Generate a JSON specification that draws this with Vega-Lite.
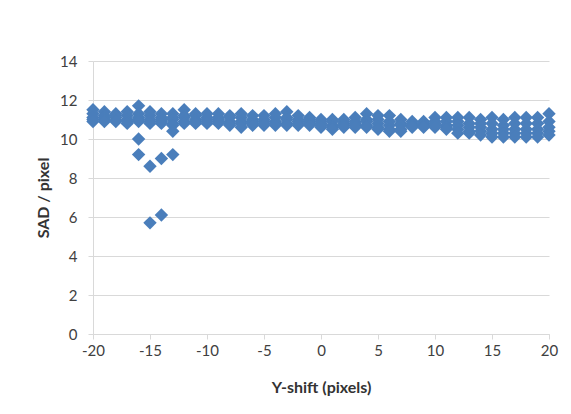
{
  "$schema": "https://vega.github.io/schema/vega-lite/v6.json",
  "autosize": {"type": "none"},
  "width": 456,
  "height": 273,
  "padding": {"left": 93, "top": 61, "right": 22, "bottom": 80},
  "background": "white",
  "config": {"view": {"stroke": null}, "font": "Lato"},
  "data": {"values": [
    {"x":-20,"y":11.5},{"x":-20,"y":11.3},{"x":-20,"y":11.1},{"x":-20,"y":11.0},{"x":-20,"y":10.9},
    {"x":-19,"y":11.4},{"x":-19,"y":11.2},{"x":-19,"y":11.1},{"x":-19,"y":11.0},{"x":-19,"y":10.9},
    {"x":-18,"y":11.3},{"x":-18,"y":11.2},{"x":-18,"y":11.1},{"x":-18,"y":10.95},{"x":-18,"y":10.9},
    {"x":-17,"y":11.4},{"x":-17,"y":11.2},{"x":-17,"y":11.0},{"x":-17,"y":10.9},{"x":-17,"y":10.8},
    {"x":-16,"y":11.7},{"x":-16,"y":11.3},{"x":-16,"y":11.1},{"x":-16,"y":11.0},{"x":-16,"y":10.9},{"x":-16,"y":10.0},{"x":-16,"y":9.2},
    {"x":-15,"y":11.4},{"x":-15,"y":11.2},{"x":-15,"y":11.0},{"x":-15,"y":10.9},{"x":-15,"y":10.8},{"x":-15,"y":8.6},{"x":-15,"y":5.7},
    {"x":-14,"y":11.3},{"x":-14,"y":11.1},{"x":-14,"y":11.0},{"x":-14,"y":10.9},{"x":-14,"y":10.8},{"x":-14,"y":9.0},{"x":-14,"y":6.1},
    {"x":-13,"y":11.3},{"x":-13,"y":11.1},{"x":-13,"y":11.0},{"x":-13,"y":10.8},{"x":-13,"y":10.7},{"x":-13,"y":10.4},{"x":-13,"y":9.2},
    {"x":-12,"y":11.5},{"x":-12,"y":11.2},{"x":-12,"y":11.1},{"x":-12,"y":10.9},{"x":-12,"y":10.8},
    {"x":-11,"y":11.3},{"x":-11,"y":11.2},{"x":-11,"y":11.0},{"x":-11,"y":10.9},{"x":-11,"y":10.8},
    {"x":-10,"y":11.3},{"x":-10,"y":11.1},{"x":-10,"y":11.0},{"x":-10,"y":10.9},{"x":-10,"y":10.8},
    {"x":-9,"y":11.3},{"x":-9,"y":11.1},{"x":-9,"y":11.0},{"x":-9,"y":10.9},{"x":-9,"y":10.8},
    {"x":-8,"y":11.2},{"x":-8,"y":11.1},{"x":-8,"y":10.9},{"x":-8,"y":10.8},{"x":-8,"y":10.7},
    {"x":-7,"y":11.3},{"x":-7,"y":11.1},{"x":-7,"y":10.9},{"x":-7,"y":10.8},{"x":-7,"y":10.6},
    {"x":-6,"y":11.2},{"x":-6,"y":11.0},{"x":-6,"y":10.9},{"x":-6,"y":10.8},{"x":-6,"y":10.7},
    {"x":-5,"y":11.2},{"x":-5,"y":11.0},{"x":-5,"y":10.9},{"x":-5,"y":10.8},{"x":-5,"y":10.7},
    {"x":-4,"y":11.3},{"x":-4,"y":11.1},{"x":-4,"y":10.9},{"x":-4,"y":10.8},{"x":-4,"y":10.7},
    {"x":-3,"y":11.4},{"x":-3,"y":11.1},{"x":-3,"y":11.0},{"x":-3,"y":10.8},{"x":-3,"y":10.7},
    {"x":-2,"y":11.2},{"x":-2,"y":11.0},{"x":-2,"y":10.9},{"x":-2,"y":10.8},{"x":-2,"y":10.7},
    {"x":-1,"y":11.1},{"x":-1,"y":11.0},{"x":-1,"y":10.9},{"x":-1,"y":10.8},{"x":-1,"y":10.7},
    {"x":0,"y":11.0},{"x":0,"y":10.9},{"x":0,"y":10.8},{"x":0,"y":10.7},{"x":0,"y":10.6},
    {"x":1,"y":11.0},{"x":1,"y":10.9},{"x":1,"y":10.7},{"x":1,"y":10.6},{"x":1,"y":10.5},
    {"x":2,"y":11.0},{"x":2,"y":10.9},{"x":2,"y":10.8},{"x":2,"y":10.7},{"x":2,"y":10.6},
    {"x":3,"y":11.1},{"x":3,"y":10.9},{"x":3,"y":10.8},{"x":3,"y":10.7},{"x":3,"y":10.6},
    {"x":4,"y":11.3},{"x":4,"y":11.0},{"x":4,"y":10.9},{"x":4,"y":10.7},{"x":4,"y":10.6},
    {"x":5,"y":11.2},{"x":5,"y":11.0},{"x":5,"y":10.8},{"x":5,"y":10.6},{"x":5,"y":10.5},
    {"x":6,"y":11.2},{"x":6,"y":10.9},{"x":6,"y":10.7},{"x":6,"y":10.5},{"x":6,"y":10.4},
    {"x":7,"y":11.0},{"x":7,"y":10.8},{"x":7,"y":10.7},{"x":7,"y":10.5},{"x":7,"y":10.4},
    {"x":8,"y":10.9},{"x":8,"y":10.8},{"x":8,"y":10.7},{"x":8,"y":10.65},{"x":8,"y":10.6},
    {"x":9,"y":10.9},{"x":9,"y":10.8},{"x":9,"y":10.7},{"x":9,"y":10.65},{"x":9,"y":10.6},
    {"x":10,"y":11.1},{"x":10,"y":10.9},{"x":10,"y":10.8},{"x":10,"y":10.7},{"x":10,"y":10.6},
    {"x":11,"y":11.1},{"x":11,"y":10.9},{"x":11,"y":10.7},{"x":11,"y":10.6},{"x":11,"y":10.5},
    {"x":12,"y":11.1},{"x":12,"y":10.9},{"x":12,"y":10.7},{"x":12,"y":10.5},{"x":12,"y":10.3},
    {"x":13,"y":11.1},{"x":13,"y":10.8},{"x":13,"y":10.6},{"x":13,"y":10.4},{"x":13,"y":10.3},
    {"x":14,"y":11.0},{"x":14,"y":10.8},{"x":14,"y":10.6},{"x":14,"y":10.4},{"x":14,"y":10.2},
    {"x":15,"y":11.1},{"x":15,"y":10.8},{"x":15,"y":10.5},{"x":15,"y":10.3},{"x":15,"y":10.1},
    {"x":16,"y":11.0},{"x":16,"y":10.7},{"x":16,"y":10.5},{"x":16,"y":10.3},{"x":16,"y":10.1},
    {"x":17,"y":11.1},{"x":17,"y":10.8},{"x":17,"y":10.5},{"x":17,"y":10.3},{"x":17,"y":10.1},
    {"x":18,"y":11.1},{"x":18,"y":10.8},{"x":18,"y":10.5},{"x":18,"y":10.3},{"x":18,"y":10.1},
    {"x":19,"y":11.1},{"x":19,"y":10.8},{"x":19,"y":10.5},{"x":19,"y":10.3},{"x":19,"y":10.1},
    {"x":20,"y":11.3},{"x":20,"y":10.9},{"x":20,"y":10.6},{"x":20,"y":10.4},{"x":20,"y":10.2}
  ]},
  "mark": {"type": "point", "shape": "diamond", "filled": true, "size": 180, "color": "#4A7EBB", "opacity": 1, "clip": false},
  "encoding": {
    "x": {
      "field": "x", "type": "quantitative",
      "scale": {"domain": [-20, 20], "nice": false, "zero": false},
      "axis": {
        "values": [-20, -15, -10, -5, 0, 5, 10, 15, 20],
        "labelExpr": "datum.value + ''",
        "labelFlush": false,
        "grid": false,
        "domainColor": "#D9D9D9", "tickColor": "#D9D9D9", "tickSize": 5,
        "labelFont": "Lato", "labelFontSize": 15, "labelColor": "#404040", "labelPadding": 4,
        "title": "Y-shift (pixels)", "titleFont": "Lato", "titleFontSize": 16, "titleFontWeight": "bold", "titleColor": "#333333",
        "titleY": 53, "titleBaseline": "middle"
      }
    },
    "y": {
      "field": "y", "type": "quantitative",
      "scale": {"domain": [0, 14], "nice": false},
      "axis": {
        "values": [0, 2, 4, 6, 8, 10, 12, 14],
        "labelExpr": "datum.value + ''",
        "labelFlush": false,
        "grid": true, "gridColor": "#D9D9D9",
        "domainColor": "#D9D9D9", "tickColor": "#D9D9D9", "tickSize": 5,
        "labelFont": "Lato", "labelFontSize": 15, "labelColor": "#404040", "labelPadding": 11,
        "title": "SAD / pixel", "titleFont": "Lato", "titleFontSize": 16, "titleFontWeight": "bold", "titleColor": "#333333",
        "titleX": -50, "titleY": 136.5, "titleAngle": -90, "titleBaseline": "middle", "titleAlign": "center"
      }
    }
  }
}
